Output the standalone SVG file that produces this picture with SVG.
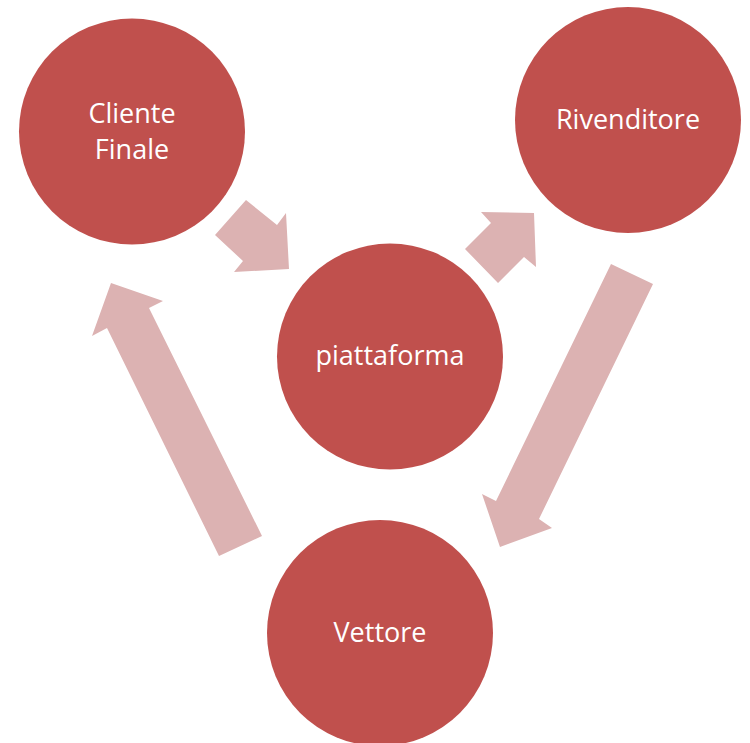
<svg xmlns="http://www.w3.org/2000/svg" width="750" height="743" viewBox="0 0 750 743">
<style>
.node{fill:#C0504D}
.lbl{fill:#FFFFFF;font-family:"Open Sans","Liberation Sans",sans-serif;font-size:27px;text-anchor:middle}
.arr{fill:#DCB2B2}
</style>
<rect width="750" height="743" fill="#FFFFFF"/>
<g id="connectors">
<polygon class="arr" points="246,200 215,235 243,261 234,272 289,269 286,213 277,225"/>
<polygon class="arr" points="465,249 498,283 524,257 536,267 534,213 481,212 491,223"/>
<polygon class="arr" points="611,264 653,284 539,519 552,528 500,547 482,494 496,501"/>
<polygon class="arr" points="219,556 262,536 149,308 163,301 111,283 92,336 107,328"/>
</g>
<g id="cliente-finale">
<circle class="node" cx="132" cy="131.5" r="113"/>
<text class="lbl" x="132" y="123">Cliente</text>
<text class="lbl" x="132" y="159">Finale</text>
</g>
<g id="rivenditore">
<circle class="node" cx="628" cy="120" r="113"/>
<text class="lbl" x="628" y="129">Rivenditore</text>
</g>
<g id="piattaforma">
<circle class="node" cx="390" cy="356.5" r="113"/>
<text class="lbl" x="390" y="365">piattaforma</text>
</g>
<g id="vettore">
<circle class="node" cx="380" cy="633" r="113"/>
<text class="lbl" x="380" y="642">Vettore</text>
</g>
</svg>
